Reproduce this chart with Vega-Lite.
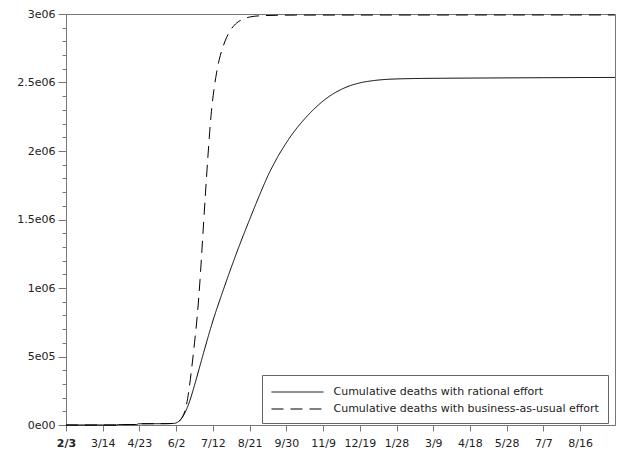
{
  "$schema": "https://vega.github.io/schema/vega-lite/v6.json",
  "width": 549,
  "height": 411,
  "autosize": {"type": "none"},
  "padding": {"left": 66, "top": 14, "right": 5, "bottom": 31},
  "background": "white",
  "config": {
    "view": {"stroke": "#777", "strokeWidth": 1},
    "axis": {"grid": false, "domainColor": "#777", "tickColor": "#777", "labelColor": "#222", "labelFont": "DejaVu Sans", "labelFontSize": 11}
  },
  "datasets": {
    "d": [
      {"series": "Cumulative deaths with rational effort", "day": 0, "deaths": 0},
      {"series": "Cumulative deaths with rational effort", "day": 55, "deaths": 0},
      {"series": "Cumulative deaths with rational effort", "day": 57, "deaths": 3000},
      {"series": "Cumulative deaths with rational effort", "day": 77, "deaths": 3000},
      {"series": "Cumulative deaths with rational effort", "day": 79, "deaths": 9000},
      {"series": "Cumulative deaths with rational effort", "day": 110, "deaths": 10000},
      {"series": "Cumulative deaths with rational effort", "day": 118, "deaths": 12000},
      {"series": "Cumulative deaths with rational effort", "day": 122, "deaths": 22000},
      {"series": "Cumulative deaths with rational effort", "day": 126, "deaths": 50000},
      {"series": "Cumulative deaths with rational effort", "day": 130, "deaths": 95000},
      {"series": "Cumulative deaths with rational effort", "day": 135, "deaths": 180000},
      {"series": "Cumulative deaths with rational effort", "day": 140, "deaths": 290000},
      {"series": "Cumulative deaths with rational effort", "day": 145, "deaths": 410000},
      {"series": "Cumulative deaths with rational effort", "day": 150, "deaths": 530000},
      {"series": "Cumulative deaths with rational effort", "day": 160, "deaths": 760000},
      {"series": "Cumulative deaths with rational effort", "day": 170, "deaths": 960000},
      {"series": "Cumulative deaths with rational effort", "day": 180, "deaths": 1150000},
      {"series": "Cumulative deaths with rational effort", "day": 190, "deaths": 1330000},
      {"series": "Cumulative deaths with rational effort", "day": 200, "deaths": 1500000},
      {"series": "Cumulative deaths with rational effort", "day": 210, "deaths": 1665000},
      {"series": "Cumulative deaths with rational effort", "day": 220, "deaths": 1820000},
      {"series": "Cumulative deaths with rational effort", "day": 230, "deaths": 1950000},
      {"series": "Cumulative deaths with rational effort", "day": 240, "deaths": 2060000},
      {"series": "Cumulative deaths with rational effort", "day": 250, "deaths": 2155000},
      {"series": "Cumulative deaths with rational effort", "day": 260, "deaths": 2235000},
      {"series": "Cumulative deaths with rational effort", "day": 270, "deaths": 2305000},
      {"series": "Cumulative deaths with rational effort", "day": 280, "deaths": 2365000},
      {"series": "Cumulative deaths with rational effort", "day": 290, "deaths": 2413000},
      {"series": "Cumulative deaths with rational effort", "day": 300, "deaths": 2450000},
      {"series": "Cumulative deaths with rational effort", "day": 310, "deaths": 2478000},
      {"series": "Cumulative deaths with rational effort", "day": 320, "deaths": 2497000},
      {"series": "Cumulative deaths with rational effort", "day": 335, "deaths": 2514000},
      {"series": "Cumulative deaths with rational effort", "day": 350, "deaths": 2523000},
      {"series": "Cumulative deaths with rational effort", "day": 380, "deaths": 2529000},
      {"series": "Cumulative deaths with rational effort", "day": 410, "deaths": 2531000},
      {"series": "Cumulative deaths with rational effort", "day": 460, "deaths": 2533000},
      {"series": "Cumulative deaths with rational effort", "day": 520, "deaths": 2535000},
      {"series": "Cumulative deaths with rational effort", "day": 598, "deaths": 2537000},
      {"series": "Cumulative deaths with business-as-usual effort", "day": 0, "deaths": 0},
      {"series": "Cumulative deaths with business-as-usual effort", "day": 55, "deaths": 0},
      {"series": "Cumulative deaths with business-as-usual effort", "day": 57, "deaths": 3000},
      {"series": "Cumulative deaths with business-as-usual effort", "day": 77, "deaths": 3000},
      {"series": "Cumulative deaths with business-as-usual effort", "day": 79, "deaths": 9000},
      {"series": "Cumulative deaths with business-as-usual effort", "day": 110, "deaths": 10000},
      {"series": "Cumulative deaths with business-as-usual effort", "day": 118, "deaths": 12000},
      {"series": "Cumulative deaths with business-as-usual effort", "day": 122, "deaths": 20000},
      {"series": "Cumulative deaths with business-as-usual effort", "day": 125, "deaths": 40000},
      {"series": "Cumulative deaths with business-as-usual effort", "day": 128, "deaths": 75000},
      {"series": "Cumulative deaths with business-as-usual effort", "day": 131, "deaths": 140000},
      {"series": "Cumulative deaths with business-as-usual effort", "day": 134, "deaths": 260000},
      {"series": "Cumulative deaths with business-as-usual effort", "day": 137, "deaths": 420000},
      {"series": "Cumulative deaths with business-as-usual effort", "day": 140, "deaths": 600000},
      {"series": "Cumulative deaths with business-as-usual effort", "day": 143, "deaths": 800000},
      {"series": "Cumulative deaths with business-as-usual effort", "day": 146, "deaths": 1060000},
      {"series": "Cumulative deaths with business-as-usual effort", "day": 149, "deaths": 1380000},
      {"series": "Cumulative deaths with business-as-usual effort", "day": 152, "deaths": 1700000},
      {"series": "Cumulative deaths with business-as-usual effort", "day": 155, "deaths": 2000000},
      {"series": "Cumulative deaths with business-as-usual effort", "day": 158, "deaths": 2260000},
      {"series": "Cumulative deaths with business-as-usual effort", "day": 161, "deaths": 2440000},
      {"series": "Cumulative deaths with business-as-usual effort", "day": 164, "deaths": 2570000},
      {"series": "Cumulative deaths with business-as-usual effort", "day": 167, "deaths": 2670000},
      {"series": "Cumulative deaths with business-as-usual effort", "day": 170, "deaths": 2740000},
      {"series": "Cumulative deaths with business-as-usual effort", "day": 175, "deaths": 2830000},
      {"series": "Cumulative deaths with business-as-usual effort", "day": 180, "deaths": 2890000},
      {"series": "Cumulative deaths with business-as-usual effort", "day": 186, "deaths": 2935000},
      {"series": "Cumulative deaths with business-as-usual effort", "day": 193, "deaths": 2962000},
      {"series": "Cumulative deaths with business-as-usual effort", "day": 200, "deaths": 2978000},
      {"series": "Cumulative deaths with business-as-usual effort", "day": 215, "deaths": 2988000},
      {"series": "Cumulative deaths with business-as-usual effort", "day": 250, "deaths": 2992000},
      {"series": "Cumulative deaths with business-as-usual effort", "day": 598, "deaths": 2993000}
    ]
  },
  "data": {"name": "d"},
  "mark": {"type": "line", "strokeWidth": 1, "color": "black", "interpolate": "monotone"},
  "encoding": {
    "x": {
      "field": "day", "type": "quantitative",
      "scale": {"domain": [0, 598], "nice": false, "zero": false},
      "axis": {
        "title": null,
        "values": [0, 40, 80, 120, 160, 200, 240, 280, 320, 360, 400, 440, 480, 520, 560],
        "labelExpr": "timeFormat(datetime(2020, 1, 3 + datum.value), '%-m/%-d')",
        "tickSize": 6, "labelPadding": 6, "labelFlush": false, "labelOverlap": false,
        "labelFontWeight": {"condition": {"test": "datum.value === 0", "value": "bold"}, "value": "normal"}
      }
    },
    "y": {
      "field": "deaths", "type": "quantitative",
      "scale": {"domain": [0, 3000000], "nice": false},
      "axis": {
        "title": null,
        "values": [0, 100000, 200000, 300000, 400000, 500000, 600000, 700000, 800000, 900000, 1000000, 1100000, 1200000, 1300000, 1400000, 1500000, 1600000, 1700000, 1800000, 1900000, 2000000, 2100000, 2200000, 2300000, 2400000, 2500000, 2600000, 2700000, 2800000, 2900000, 3000000],
        "labelExpr": "datum.value % 500000 === 0 ? replace(format(datum.value, '.2~e'), 'e+', 'e0') : ''",
        "tickSize": {"condition": {"test": "datum.value % 500000 === 0", "value": 8}, "value": 4},
        "labelPadding": 3, "labelOverlap": false, "labelFlush": false
      }
    },
    "strokeDash": {
      "field": "series", "type": "nominal",
      "scale": {"domain": ["Cumulative deaths with rational effort", "Cumulative deaths with business-as-usual effort"], "range": [[1, 0], [12, 7]]},
      "legend": {
        "title": null, "orient": "none", "legendX": 196, "legendY": 361, "direction": "vertical",
        "symbolType": "M-3.47,0H3.47", "symbolSize": 225, "symbolOffset": 18.5, "symbolStrokeWidth": 1, "symbolStrokeColor": "black",
        "labelFont": "DejaVu Sans", "labelFontSize": 11, "labelColor": "#222", "labelOffset": 28, "labelLimit": 400,
        "strokeColor": "#666", "fillColor": "white", "padding": 9, "rowPadding": 4
      }
    }
  }
}
